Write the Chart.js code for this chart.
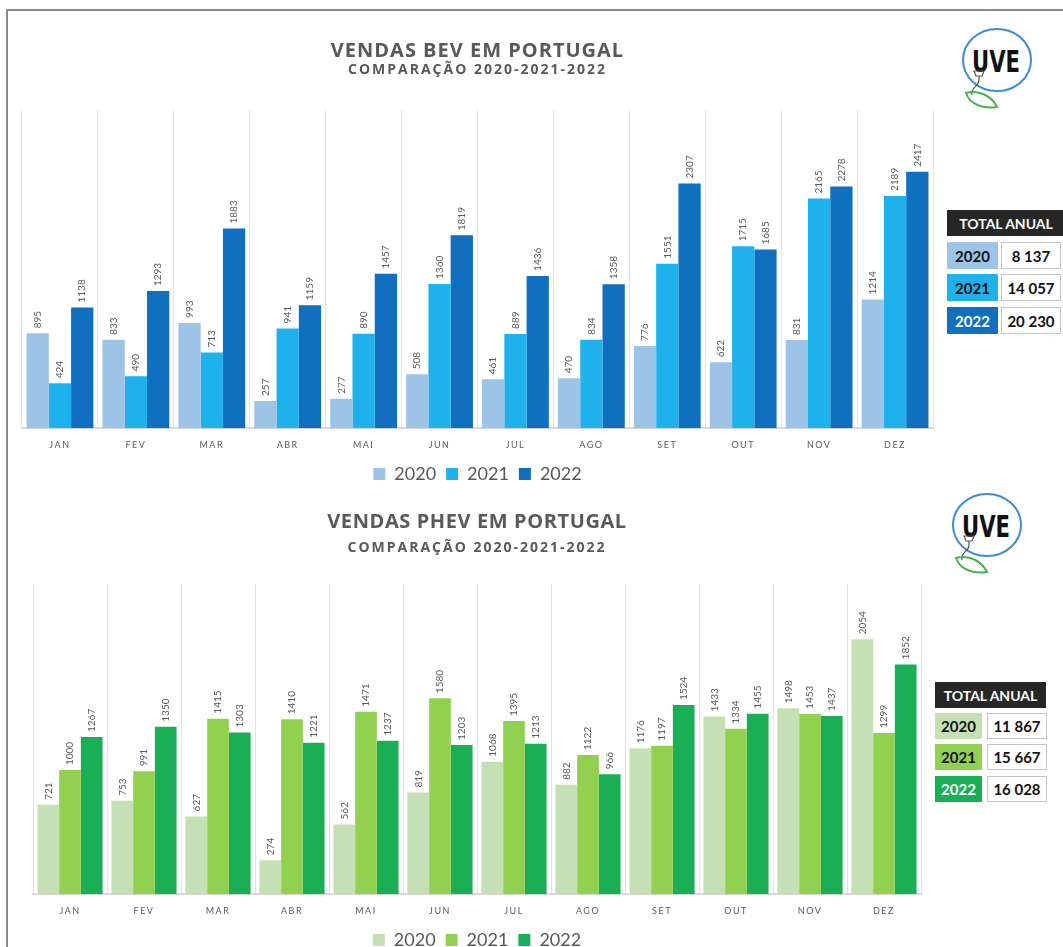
<!DOCTYPE html>
<html>
<head>
<meta charset="utf-8">
<script src="https://cdn.jsdelivr.net/npm/chart.js@4/dist/chart.umd.min.js"></script>
<style>
  html, body { margin: 0; padding: 0; background: #fff; overflow: hidden; }
  body { width: 1063px; height: 947px; position: relative; }
  .frame { position: absolute; left: 6px; top: 9px; width: 1070px; height: 950px;
           border-top: 2px solid #8a8a8a; border-left: 2px solid #8a8a8a; }
  canvas { position: absolute; left: 0; }
  .tot { position: absolute; font-family: Lato, 'Open Sans', sans-serif; font-weight: 700; }
  .tot div { position: absolute; box-sizing: border-box; display: flex; align-items: center; justify-content: center; }
  .tot .head { background: #262626; color: #fff; font-size: 14px; }
  .tot .yr { font-size: 15px; color: #111; }
  .tot .val { background: #fff; border: 1px solid #c4c4c4; font-size: 15px; color: #111; }
  .logo { position: absolute; }
</style>
</head>
<body>
<div class="frame"></div>
<canvas id="bev" width="940" height="497" style="top:0px"></canvas>
<canvas id="phev" width="928" height="493" style="top:470px"></canvas>
<div id="bevTable" class="tot"></div>
<div id="phevTable" class="tot"></div>

<svg class="logo" style="left:950px;top:25px" width="100" height="100" viewBox="0 0 100 100">
  <ellipse cx="47" cy="35" rx="34" ry="31" fill="none" stroke="#3d8bd0" stroke-width="2"/>
  <text x="46" y="47" font-family="DejaVu Sans" font-weight="bold" font-size="30" text-anchor="middle" textLength="48" lengthAdjust="spacingAndGlyphs" fill="#111">UVE</text>
  <path d="M24 46 h10 l-2 5 h-6 z M29 51 v4 C29 62 20 62 22 70" fill="none" stroke="#555" stroke-width="1.2"/>
  <path d="M16 68 C30 64 42 72 47 82 C34 84 20 80 16 68 Z" fill="none" stroke="#4cb050" stroke-width="2"/>
</svg>
<svg class="logo" style="left:940px;top:490px" width="100" height="100" viewBox="0 0 100 100">
  <ellipse cx="47" cy="35" rx="34" ry="31" fill="none" stroke="#3d8bd0" stroke-width="2"/>
  <text x="46" y="47" font-family="DejaVu Sans" font-weight="bold" font-size="30" text-anchor="middle" textLength="48" lengthAdjust="spacingAndGlyphs" fill="#111">UVE</text>
  <path d="M24 46 h10 l-2 5 h-6 z M29 51 v4 C29 62 20 62 22 70" fill="none" stroke="#555" stroke-width="1.2"/>
  <path d="M16 68 C30 64 42 72 47 82 C34 84 20 80 16 68 Z" fill="none" stroke="#4cb050" stroke-width="2"/>
</svg>

<script>
// Monthly sales (units), 2020–2022
const months = ['JAN', 'FEV', 'MAR', 'ABR', 'MAI', 'JUN', 'JUL', 'AGO', 'SET', 'OUT', 'NOV', 'DEZ'];
const years = ['2020', '2021', '2022'];

const bev2020 = [895, 833, 993, 257, 277, 508, 461, 470, 776, 622, 831, 1214];
const bev2021 = [424, 490, 713, 941, 890, 1360, 889, 834, 1551, 1715, 2165, 2189];
const bev2022 = [1138, 1293, 1883, 1159, 1457, 1819, 1436, 1358, 2307, 1685, 2278, 2417];
const bevTotals = ['8 137', '14 057', '20 230'];

const phev2020 = [721, 753, 627, 274, 562, 819, 1068, 882, 1176, 1433, 1498, 2054];
const phev2021 = [1000, 991, 1415, 1410, 1471, 1580, 1395, 1122, 1197, 1334, 1453, 1299];
const phev2022 = [1267, 1350, 1303, 1221, 1237, 1203, 1213, 966, 1524, 1455, 1437, 1852];
const phevTotals = ['11 867', '15 667', '16 028'];

const bevColors = ['#9dc3e6', '#1fb1ec', '#1070bf'];
const phevColors = ['#c5e0b4', '#92d050', '#1baf55'];

const GREY = '#595959';
const SUBTITLE = 'COMPARAÇÃO 2020-2021-2022';

// Rotated value labels above each bar
const barValueLabels = {
  id: 'barValueLabels',
  afterDatasetsDraw(chart) {
    const ctx = chart.ctx;
    ctx.save();
    ctx.font = '10px Lato, sans-serif';
    ctx.fillStyle = GREY;
    ctx.textAlign = 'left';
    ctx.textBaseline = 'middle';
    chart.data.datasets.forEach((ds, i) => {
      chart.getDatasetMeta(i).data.forEach((bar, j) => {
        ctx.save();
        ctx.translate(bar.x, bar.y - 5);
        ctx.rotate(-Math.PI / 2);
        ctx.fillText(String(ds.data[j]), 0, 0);
        ctx.restore();
      });
    });
    ctx.restore();
  }
};

// Draw a layout box's text with extra letter spacing
function spaced(chart, fn, spacing) {
  return function (...args) {
    const c = chart.ctx;
    c.save();
    c.letterSpacing = spacing;
    fn.apply(this, args);
    c.restore();
  };
}

// Letter spacing for month ticks, title and subtitle
const letterSpacing = {
  id: 'letterSpacing',
  afterLayout(chart, args, opts) {
    const sc = chart.scales.x;
    if (!sc.__spaced) {
      sc.drawLabels = spaced(chart, sc.drawLabels, '1.5px');
      sc.__spaced = true;
    }
    chart.boxes.forEach(b => {
      if (b.__spaced || !b.options || typeof b.options.text !== 'string') return;
      const sp = b.options.text === SUBTITLE ? opts.subtitle : opts.title;
      b.draw = spaced(chart, b.draw, sp);
      b.__spaced = true;
    });
  }
};

function makeChart(id, title, series, colors, yMax, pad) {
  return new Chart(document.getElementById(id), {
    type: 'bar',
    data: {
      labels: months,
      datasets: series.map((s, i) => ({
        label: years[i],
        data: s,
        backgroundColor: colors[i],
        barPercentage: 1.0,
        categoryPercentage: 0.88
      }))
    },
    options: {
      responsive: false,
      animation: false,
      layout: { padding: pad.layout },
      plugins: {
        title: {
          display: true, text: title, color: GREY,
          font: { family: 'Open Sans', size: 20, weight: 'bold', lineHeight: 1.0 },
          padding: { top: 0, bottom: pad.title }
        },
        subtitle: {
          display: true, text: SUBTITLE, color: GREY,
          font: { family: 'Open Sans', size: 14, weight: 'bold' },
          padding: { top: 0, bottom: pad.sub }
        },
        legend: {
          position: 'bottom',
          labels: {
            boxWidth: 12, boxHeight: 12, color: GREY, padding: 10,
            font: { family: 'Lato', size: 18 }
          }
        },
        tooltip: { enabled: false },
        letterSpacing: { title: pad.titleSpacing, subtitle: '2px' }
      },
      scales: {
        x: {
          grid: { color: '#e4e4e4', lineWidth: 1, drawTicks: false, offset: true },
          border: { color: '#d9d9d9', width: 2 },
          ticks: { color: GREY, font: { family: 'Lato', size: 9 }, padding: 11 },
          afterFit(scale) { scale.height -= 6; }
        },
        y: { display: false, min: 0, max: yMax }
      }
    },
    plugins: [barValueLabels, letterSpacing]
  });
}

makeChart('bev', 'VENDAS BEV EM PORTUGAL',
  [bev2020, bev2021, bev2022], bevColors, 3000,
  { layout: { left: 22, right: 7, top: 41.5, bottom: 4 }, title: 0, sub: 31.7, titleSpacing: '1px' });

makeChart('phev', 'VENDAS PHEV EM PORTUGAL',
  [phev2020, phev2021, phev2022], phevColors, 2500,
  { layout: { left: 33, right: 7, top: 42.5, bottom: 4 }, title: 7.5, sub: 27.2, titleSpacing: '0.6px' });

// "TOTAL ANUAL" side tables
function buildTable(id, totals, colors, g) {
  const box = document.getElementById(id);
  box.style.left = g.left + 'px';
  box.style.top = g.top + 'px';
  const head = document.createElement('div');
  head.className = 'head';
  head.textContent = 'TOTAL ANUAL';
  Object.assign(head.style, { left: '0px', top: '0px', width: g.headW + 'px', height: g.headH + 'px' });
  box.appendChild(head);
  totals.forEach((t, i) => {
    const y = document.createElement('div');
    y.className = 'yr';
    y.textContent = years[i];
    Object.assign(y.style, {
      left: '0px', top: g.rows[i] + 'px', width: g.yrW + 'px', height: g.rowH + 'px',
      background: colors[i], color: i === 2 ? '#fff' : '#111'
    });
    box.appendChild(y);
    const v = document.createElement('div');
    v.className = 'val';
    v.textContent = t;
    Object.assign(v.style, { left: g.valX + 'px', top: g.rows[i] + 'px', width: g.valW + 'px', height: g.rowH + 'px' });
    box.appendChild(v);
  });
}

buildTable('bevTable', bevTotals, bevColors,
  { left: 947, top: 210, headW: 118, headH: 26, rows: [32, 64, 97], yrW: 51, rowH: 27, valX: 54, valW: 60 });
buildTable('phevTable', phevTotals, phevColors,
  { left: 935, top: 682, headW: 111, headH: 26, rows: [31, 62, 94], yrW: 47, rowH: 26, valX: 52, valW: 60 });
</script>
</body>
</html>
